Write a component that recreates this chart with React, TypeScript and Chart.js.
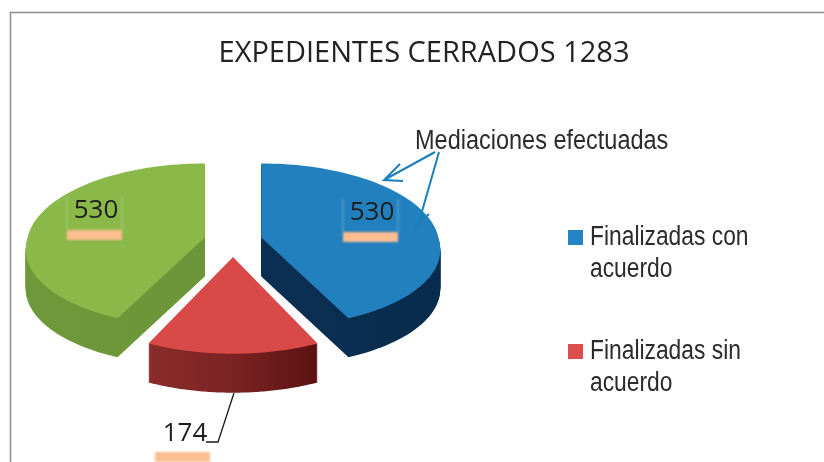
import React, { useEffect, useRef } from "react";
import { Chart, registerables } from "chart.js";

Chart.register(...registerables);

const chartTitle = "EXPEDIENTES CERRADOS 1283";
const categories: (string | string[])[] = [
  ["Finalizadas con", "acuerdo"],
  ["Finalizadas sin", "acuerdo"],
  "",
];
const values = [530, 174, 530];
const faceColors = ["#2180bd", "#d84947", "#8ab949"];
const legendColors = ["#2383c3", "#dc4f4e", "#8ab949"];
const wallStops = [
  ["#072a4a", "#0a2f52", "#08294a"],
  ["#8b2c2c", "#7b2323", "#5c1212"],
  ["#6f9a3b", "#6d9639", "#6a9238"],
];
const annotationText = "Mediaciones efectuadas";

const NARROW_FONT = '"Liberation Sans", sans-serif';
const LABEL_FONT = '"Open Sans", "Noto Sans", sans-serif';

const CX = 233;
const CY = 241;
const RX = 177;
const RY = 81.4;
const K = 0.1;
const DEPTH = 39;

function project(theta: number, ox: number, oy: number, xs: number, ys: number) {
  const X = Math.sin(theta);
  const Y = -Math.cos(theta);
  const w = 1 - K * Y;
  return [ox + ((RX * X) / w) * (1 + 0.05 * Math.max(0, Y)) * xs, oy + ((RY * Y) / w) * ys];
}

function slicePath(ctx: CanvasRenderingContext2D, s: any, oy: number) {
  ctx.beginPath();
  ctx.moveTo(s.ox, oy);
  const n = 80;
  for (let i = 0; i <= n; i++) {
    const t = s.a0 + ((s.a1 - s.a0) * i) / n;
    const [x, y] = project(t, s.ox, oy, s.xs, s.ys);
    ctx.lineTo(x, y);
  }
  ctx.closePath();
}

const pie3d = {
  id: "pie3d",
  beforeDatasetsDraw(chart: any) {
    const ctx: CanvasRenderingContext2D = chart.ctx;
    const meta = chart.getDatasetMeta(0);
    const arcs = meta.data.map((el: any, i: number) => {
      const a0 = el.startAngle + Math.PI / 2;
      const a1 = el.endAngle + Math.PI / 2;
      const mid = (a0 + a1) / 2;
      const off = el.options.offset;
      const front = Math.max(0, -Math.cos(mid));
      return {
        i,
        a0,
        a1,
        ox: CX + Math.sin(mid) * off,
        oy: CY - Math.cos(mid) * off * 0.55,
        xs: 1 - 0.03 * front,
        ys: 1 + 0.07 * front,
      };
    });
    const order = [2, 0, 1];
    for (const idx of order) {
      const s = arcs[idx];
      const e0 = project(s.a0, s.ox, s.oy, s.xs, s.ys)[0];
      const e1 = project(s.a1, s.ox, s.oy, s.xs, s.ys)[0];
      const left = Math.min(e0, e1, s.ox) - (idx === 1 ? 0 : 180);
      const right = Math.max(e0, e1, s.ox) + (idx === 1 ? 0 : 180);
      const g = ctx.createLinearGradient(left, 0, right, 0);
      const stops = wallStops[idx];
      stops.forEach((c, j) => g.addColorStop(j / (stops.length - 1), c));
      ctx.fillStyle = g;
      for (let d = DEPTH; d > 0; d--) {
        slicePath(ctx, s, s.oy + d);
        ctx.fill();
      }
      slicePath(ctx, s, s.oy);
      ctx.fillStyle = chart.data.datasets[0].backgroundColor[idx];
      ctx.fill();
    }
    drawExtras(chart);
    return false;
  },
  beforeDraw(chart: any) {
    const ctx: CanvasRenderingContext2D = chart.ctx;
    ctx.save();
    ctx.strokeStyle = "#8f8f8f";
    ctx.lineWidth = 1.6;
    ctx.beginPath();
    ctx.moveTo(10.5, 462);
    ctx.lineTo(10.5, 12.5);
    ctx.lineTo(824, 12.5);
    ctx.stroke();
    ctx.restore();
  },
};

function labelBox(ctx: CanvasRenderingContext2D, x: number, y: number, w: number, h: number, white: boolean) {
  ctx.save();
  ctx.filter = "blur(1.2px)";
  if (white) {
    ctx.fillStyle = "#ffffff";
    ctx.fillRect(x, y, w, h);
  } else {
    ctx.fillStyle = "rgba(255,255,255,0.18)";
    ctx.fillRect(x - 1, y, 2, h);
    ctx.fillRect(x + w - 1, y, 2, h);
  }
  ctx.fillStyle = "#fcbd90";
  ctx.fillRect(x, y + h, w, 10);
  ctx.restore();
}

function narrowText(ctx: CanvasRenderingContext2D, text: string, x: number, y: number, sx: number) {
  ctx.save();
  ctx.translate(x, y);
  ctx.scale(sx, 1);
  ctx.fillText(text, 0, 0);
  ctx.restore();
}

function drawExtras(chart: any) {
  const ctx: CanvasRenderingContext2D = chart.ctx;
  const data: number[] = chart.data.datasets[0].data;
  ctx.save();

  labelBox(ctx, 67, 197, 55, 33, false);
  labelBox(ctx, 343, 199, 55, 33, false);

  // leader line of the small slice
  labelBox(ctx, 155, 420, 55, 32, true);
  ctx.strokeStyle = "#1a1a1a";
  ctx.lineWidth = 1.3;
  ctx.beginPath();
  ctx.moveTo(234, 393);
  ctx.lineTo(218, 442);
  ctx.lineTo(206, 442);
  ctx.stroke();

  ctx.fillStyle = "#1e1e1e";
  ctx.font = `26px ${LABEL_FONT}`;
  ctx.textAlign = "center";
  ctx.textBaseline = "middle";
  ctx.fillText(String(data[2]), 96, 211);
  ctx.fillText(String(data[0]), 372, 213);
  ctx.fillText(String(data[1]), 185, 434);

  // annotation
  ctx.fillStyle = "#2b2b2b";
  ctx.font = `27px ${NARROW_FONT}`;
  ctx.textAlign = "left";
  narrowText(ctx, annotationText, 415, 142, 0.87);

  // legend, built from the chart's own labels and colours
  const labels: any[] = chart.data.labels;
  const tops = [230, 344];
  labels.forEach((lab, i) => {
    if (!lab || !lab.length) return;
    ctx.fillStyle = legendColors[i];
    ctx.fillRect(568, tops[i], 15, 15);
    ctx.fillStyle = "#2b2b2b";
    (lab as string[]).forEach((line, j) => {
      narrowText(ctx, line, 590, tops[i] + 7.5 + j * 32.5, 0.845);
    });
  });

  ctx.strokeStyle = "#1b7fbe";
  ctx.lineWidth = 2;
  ctx.beginPath();
  ctx.moveTo(435, 152);
  ctx.lineTo(384, 180);
  ctx.moveTo(400, 164);
  ctx.lineTo(384, 180);
  ctx.lineTo(403, 181);
  ctx.moveTo(439, 152);
  ctx.lineTo(419, 222);
  ctx.moveTo(414, 228);
  ctx.lineTo(429, 214);
  ctx.stroke();
  ctx.restore();
}

export default function App() {
  const ref = useRef<HTMLCanvasElement>(null);
  useEffect(() => {
    const chart = new Chart(ref.current as HTMLCanvasElement, {
      type: "pie",
      data: {
        labels: categories as any,
        datasets: [
          {
            data: values,
            backgroundColor: faceColors,
            borderWidth: 0,
            offset: 29,
          },
        ],
      },
      options: {
        responsive: false,
        animation: false,
        layout: { padding: { left: 24, top: 36, right: 0, bottom: 0 } },
        plugins: {
          tooltip: { enabled: false },
          legend: { display: false },
          title: {
            display: true,
            text: chartTitle,
            color: "#222222",
            font: { family: LABEL_FONT, size: 29, weight: "normal" },
            padding: { top: 0, bottom: 40 },
          },
        },
      } as any,
      plugins: [pie3d as any],
    });
    return () => chart.destroy();
  }, []);
  return (
    <canvas
      ref={ref}
      width={824}
      height={462}
      style={{ position: "absolute", left: 0, top: 0, display: "block", background: "#fff" }}
    />
  );
}
